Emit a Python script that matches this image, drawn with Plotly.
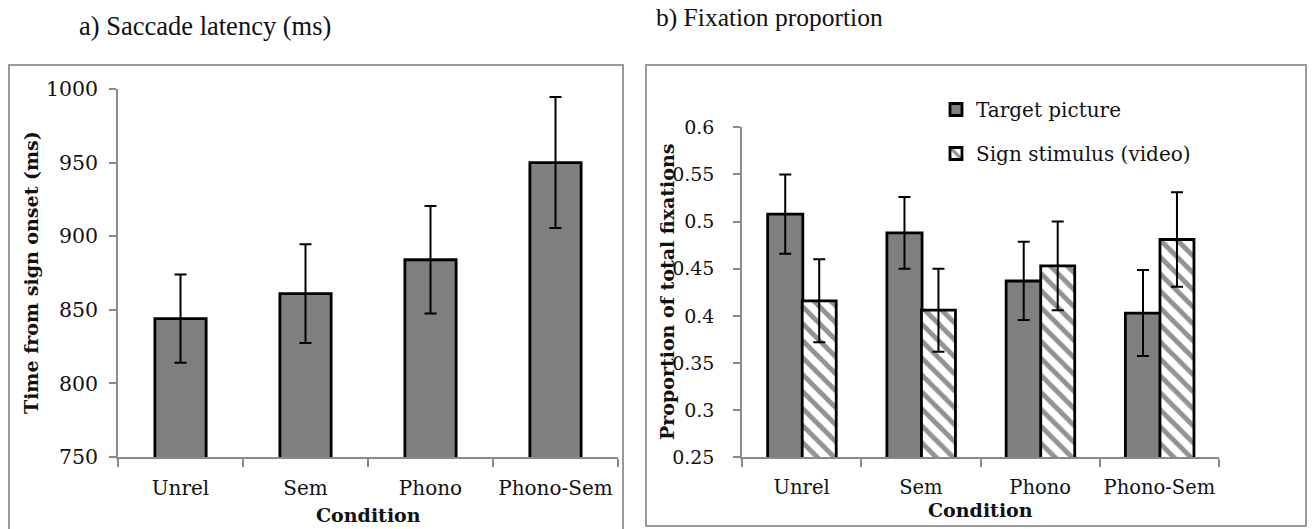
import plotly.graph_objects as go

W, H = 1314, 529

conditions = ["Unrel", "Sem", "Phono", "Phono-Sem"]

# a) Saccade latency (ms)
latency = [844, 861, 884, 950]
latency_err = [30, 33.5, 36.5, 44.5]

# b) Fixation proportion
target_prop = [0.508, 0.488, 0.437, 0.403]
target_err = [0.042, 0.038, 0.0415, 0.0456]
sign_prop = [0.416, 0.406, 0.453, 0.481]
sign_err = [0.044, 0.044, 0.047, 0.050]

SERIF = "Liberation Serif"
TICKF = "DejaVu Serif"
GRAY_AX = "#8a8a8a"

def px(x):
    return x / W

def py(y):
    return 1 - y / H

fig = go.Figure()

fig.add_trace(go.Bar(
    x=conditions, y=latency, xaxis="x", yaxis="y", showlegend=False,
    marker=dict(color="#7f7f7f", line=dict(color="black", width=2.8)),
    error_y=dict(type="data", array=latency_err, color="black", thickness=2, width=6),
))

fig.add_trace(go.Bar(
    x=conditions, y=target_prop, xaxis="x2", yaxis="y2", name="Target picture",
    legendgroup="a",
    marker=dict(color="#7f7f7f", line=dict(color="black", width=2.8)),
    error_y=dict(type="data", array=target_err, color="black", thickness=2, width=6),
))
fig.add_trace(go.Bar(
    x=conditions, y=sign_prop, xaxis="x2", yaxis="y2", name="Sign stimulus (video)",
    legendgroup="b",
    marker=dict(color="white", line=dict(color="black", width=2.8),
                pattern=dict(shape="\\", fgcolor="#929292", bgcolor="white",
                             size=12, solidity=0.4)),
    error_y=dict(type="data", array=sign_err, color="black", thickness=2, width=6),
))

xax = dict(type="category", showline=True, linecolor=GRAY_AX, linewidth=1.5,
           ticks="outside", tickson="boundaries", ticklen=8, tickcolor=GRAY_AX,
           tickwidth=1.5, showgrid=False, zeroline=False, tickangle=0,
           automargin=False, ticklabelstandoff=12)
yax = dict(showline=True, linecolor=GRAY_AX, linewidth=1.5, ticks="outside",
           ticklen=7, tickcolor=GRAY_AX, tickwidth=1.5, showgrid=False,
           zeroline=False, automargin=False)

fig.update_layout(
    template="none",
    width=W, height=H, margin=dict(l=0, r=0, t=0, b=0, pad=0, autoexpand=False),
    paper_bgcolor="white", plot_bgcolor="white",
    barmode="group",
    font=dict(family=TICKF, color="#111111"),
    xaxis=dict(**xax, domain=[px(118), px(618)], anchor="y",
               tickfont=dict(size=20, family=TICKF)),
    yaxis=dict(**yax, domain=[py(457), py(89)], anchor="x", range=[750, 1000],
               dtick=50, tickfont=dict(size=20.5, family=TICKF), ticklabelstandoff=7),
    xaxis2=dict(**xax, domain=[px(742), px(1219)], anchor="y2",
                tickfont=dict(size=19.5, family=TICKF)),
    yaxis2=dict(**yax, domain=[py(457.3), py(127.3)], anchor="x2", range=[0.25, 0.6],
                dtick=0.05, tickfont=dict(size=19, family=TICKF), ticklabelstandoff=15),
    bargap=0.59,
    legend=dict(x=px(936), y=py(90), xanchor="left", yanchor="top",
                font=dict(size=20, family=TICKF), tracegroupgap=15,
                bgcolor="rgba(0,0,0,0)"),
)

fig.data[1].update(width=0.295, offset=-0.295 + 0.01)
fig.data[2].update(width=0.285, offset=0.005)

fig.update_layout(
    shapes=[
        dict(type="rect", xref="paper", yref="paper", x0=px(9), x1=px(623),
             y0=py(545), y1=py(65), line=dict(color="#9a9a9a", width=2)),
        dict(type="rect", xref="paper", yref="paper", x0=px(646), x1=px(1306),
             y0=py(526), y1=py(65), line=dict(color="#9a9a9a", width=2)),
    ],
    annotations=[
        dict(text="a) Saccade latency (ms)", x=px(77), y=py(26), xref="paper", yref="paper",
             xanchor="left", yanchor="middle", showarrow=False,
             font=dict(size=26.5, family=SERIF, color="#111")),
        dict(text="b) Fixation proportion", x=px(654), y=py(18), xref="paper", yref="paper",
             xanchor="left", yanchor="middle", showarrow=False,
             font=dict(size=25.5, family=SERIF, color="#111")),
        dict(text="<b>Time from sign onset (ms)</b>", x=px(31), y=py(273), xref="paper",
             yref="paper", textangle=-90, xanchor="center", yanchor="middle",
             showarrow=False, font=dict(size=19, family=TICKF, color="#111")),
        dict(text="<b>Condition</b>", x=px(368), y=py(515), xref="paper", yref="paper",
             xanchor="center", yanchor="middle", showarrow=False,
             font=dict(size=19, family=TICKF, color="#111")),
        dict(text="<b>Proportion of total fixations</b>", x=px(667), y=py(292), xref="paper",
             yref="paper", textangle=-90, xanchor="center", yanchor="middle",
             showarrow=False, font=dict(size=19, family=TICKF, color="#111")),
        dict(text="<b>Condition</b>", x=px(980), y=py(510), xref="paper", yref="paper",
             xanchor="center", yanchor="middle", showarrow=False,
             font=dict(size=19, family=TICKF, color="#111")),
    ],
)

fig.write_html("out.html", config={"displayModeBar": False},
               post_script="document.body.style.margin='0';document.body.style.overflow='hidden';")
